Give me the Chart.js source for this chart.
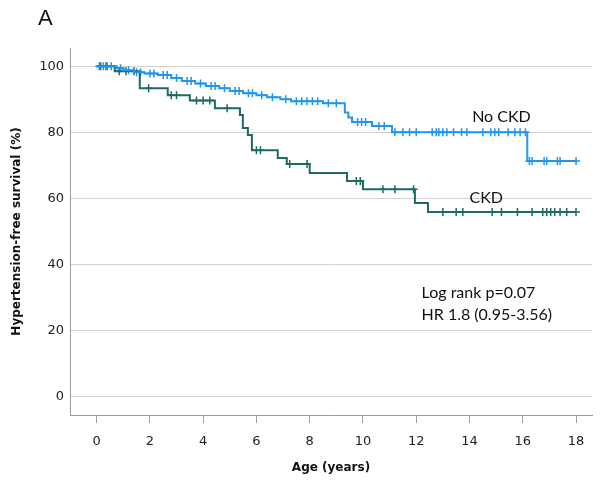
<!DOCTYPE html>
<html>
<head>
<meta charset="utf-8">
<script src="https://cdn.jsdelivr.net/npm/chart.js@4/dist/chart.umd.min.js"></script>
<style>
  html, body { margin: 0; padding: 0; background: #fff; }
  #wrap { width: 600px; height: 481px; }
</style>
</head>
<body>
<div id="wrap"><canvas id="km"></canvas></div>
<script>
// step points (time in years, survival %)
const noCkdTime = [0, 0.75, 1.0, 1.4, 1.8, 2.3, 2.8, 3.2, 3.7, 4.1, 4.6, 5.0, 5.5, 6.0, 6.4, 6.9, 7.3, 8.5, 9.32, 9.45, 9.59, 10.34, 11.09, 16.17]
const noCkdSurv = [100, 99.4, 98.8, 98.2, 97.8, 97.3, 96.4, 95.5, 94.8, 94.0, 93.3, 92.5, 91.8, 91.2, 90.6, 90.0, 89.4, 88.8, 86.0, 84.5, 83.1, 81.9, 80.0, 71.3]
const noCkdCensor = [0.1, 0.25, 0.4, 0.55, 0.9, 1.2, 1.5, 1.65, 2.0, 2.15, 2.5, 2.65, 3.0, 3.4, 3.55, 3.9, 4.3, 4.45, 4.8, 5.2, 5.35, 5.7, 5.85, 6.2, 6.6, 7.1, 7.5, 7.7, 7.9, 8.1, 8.3, 8.7, 9.0, 9.8, 9.95, 10.1, 10.6, 10.8, 11.2, 11.5, 11.75, 12.0, 12.6, 12.75, 12.85, 13.0, 13.15, 13.4, 13.7, 13.9, 14.5, 14.8, 14.95, 15.1, 15.45, 15.7, 15.9, 16.1, 16.25, 16.35, 16.8, 16.9, 17.3, 17.4, 18.0]
const noCkdEnd = 18.0

const ckdTime = [0, 0.68, 1.62, 2.67, 3.5, 4.44, 5.38, 5.49, 5.68, 5.83, 6.8, 7.14, 8.0, 9.4, 10.0, 11.95, 12.44]
const ckdSurv = [100, 98.5, 93.3, 91.2, 89.6, 87.3, 85.2, 81.3, 79.2, 74.6, 72.2, 70.4, 67.7, 65.3, 62.8, 58.6, 55.9]
const ckdCensor = [0.15, 0.35, 0.85, 1.1, 1.4, 1.95, 2.8, 3.0, 3.75, 4.0, 4.25, 4.9, 6.0, 6.15, 7.25, 7.9, 9.75, 9.9, 10.75, 11.2, 11.9, 13.0, 13.5, 13.75, 14.85, 15.2, 15.8, 16.35, 16.75, 16.9, 17.05, 17.2, 17.4, 17.65, 18.0]
const ckdEnd = 18.0

const xTicks = [0, 2, 4, 6, 8, 10, 12, 14, 16, 18]
const yTicks = [0, 20, 40, 60, 80, 100]

const blue = '#2196f0'
const teal = '#1d6b62'

function stepPoints(times, surv, end) {
        const pts = times.map((t, i) => ({ x: t, y: surv[i] }))
        pts.push({ x: end, y: surv[surv.length - 1] })
        return pts
}

function survAt(times, surv, t) {
        let s = surv[0]
        for (let i = 0; i < times.length; i++) {
                if (times[i] <= t) s = surv[i]
        }
        return s
}

function censorPoints(times, surv, cens) {
        return cens.map(t => ({ x: t, y: survAt(times, surv, t) }))
}

const labelsPlugin = {
        id: 'kmLabels',
        afterDraw(chart) {
                const c = chart.ctx
                const xs = chart.scales.x
                const ys = chart.scales.y
                c.save()
                c.fillStyle = '#111'
                c.font = '22px "Liberation Sans", sans-serif'
                c.textBaseline = 'middle'
                c.textAlign = 'left'
                c.fillText('A', 38, 19)
                c.font = '16px Lato, "Open Sans", sans-serif'
                c.fillText('No CKD', xs.getPixelForValue(14.1), ys.getPixelForValue(84.6))
                c.fillText('CKD', xs.getPixelForValue(14.0), ys.getPixelForValue(60.1))
                c.fillText('Log rank p=0.07', xs.getPixelForValue(12.2), ys.getPixelForValue(31.4))
                c.fillText('HR 1.8 (0.95-3.56)', xs.getPixelForValue(12.2), ys.getPixelForValue(24.8))
                c.restore()
        }
}

const ctx = document.getElementById('km').getContext('2d')

new Chart(ctx, {
        type: 'scatter',
        data: {
                datasets: [
                        {
                                label: 'No CKD',
                                data: stepPoints(noCkdTime, noCkdSurv, noCkdEnd),
                                showLine: true,
                                stepped: 'before',
                                borderColor: blue,
                                borderWidth: 2,
                                pointRadius: 0
                        },
                        {
                                label: 'CKD',
                                data: stepPoints(ckdTime, ckdSurv, ckdEnd),
                                showLine: true,
                                stepped: 'before',
                                borderColor: teal,
                                borderWidth: 2,
                                pointRadius: 0
                        },
                        {
                                label: 'No CKD censored',
                                data: censorPoints(noCkdTime, noCkdSurv, noCkdCensor),
                                showLine: false,
                                pointStyle: 'cross',
                                pointRadius: 4,
                                borderColor: blue,
                                borderWidth: 1.5
                        },
                        {
                                label: 'CKD censored',
                                data: censorPoints(ckdTime, ckdSurv, ckdCensor),
                                showLine: false,
                                pointStyle: 'cross',
                                pointRadius: 4,
                                borderColor: teal,
                                borderWidth: 1.5
                        }
                ]
        },
        options: {
                responsive: true,
                maintainAspectRatio: false,
                animation: false,
                layout: { padding: { left: 6, top: 48, right: 8, bottom: 4 } },
                plugins: {
                        legend: { display: false },
                        tooltip: { enabled: false }
                },
                scales: {
                        x: {
                                type: 'linear',
                                min: -1.0,
                                max: 18.6,
                                afterBuildTicks: axis => { axis.ticks = xTicks.map(v => ({ value: v })) },
                                afterFit: axis => { axis.height = 62 },
                                grid: {
                                        drawOnChartArea: false,
                                        drawTicks: true,
                                        tickLength: 8,
                                        color: '#a0a0a0'
                                },
                                border: { display: true, color: '#9a9a9a', width: 1 },
                                ticks: {
                                        padding: 11,
                                        color: '#222',
                                        font: { family: '"DejaVu Sans"', size: 13 }
                                },
                                title: {
                                        display: true,
                                        text: 'Age (years)',
                                        color: '#111',
                                        font: { family: '"DejaVu Sans"', size: 12, weight: 'bold' },
                                        padding: { top: 4, bottom: 2 }
                                }
                        },
                        y: {
                                type: 'linear',
                                min: -5.5,
                                max: 105.5,
                                afterBuildTicks: axis => { axis.ticks = yTicks.map(v => ({ value: v })) },
                                afterFit: axis => { axis.width = 64 },
                                grid: {
                                        drawTicks: false,
                                        color: '#d2d2d2'
                                },
                                border: { display: true, color: '#9a9a9a', width: 1 },
                                ticks: {
                                        padding: 6,
                                        color: '#222',
                                        font: { family: '"DejaVu Sans"', size: 13 }
                                },
                                title: {
                                        display: true,
                                        text: 'Hypertension-free survival (%)',
                                        color: '#111',
                                        font: { family: '"DejaVu Sans"', size: 12, weight: 'bold' },
                                        padding: { top: 4, bottom: 2 }
                                }
                        }
                }
        },
        plugins: [labelsPlugin]
})
</script>
</body>
</html>
